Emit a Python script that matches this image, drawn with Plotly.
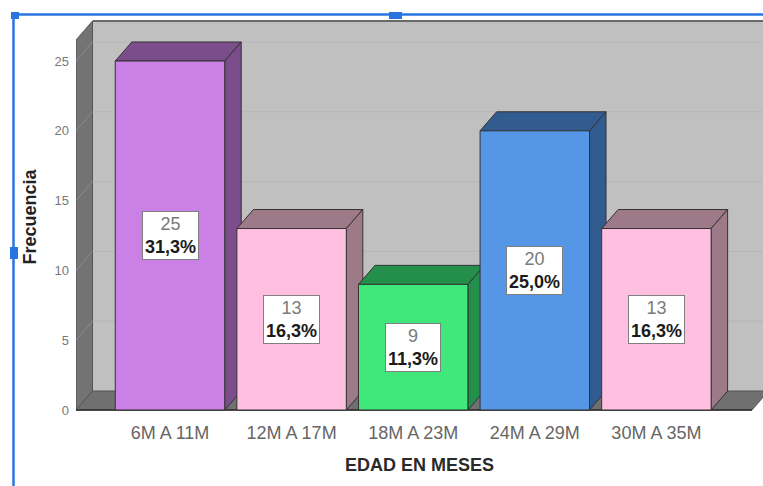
import plotly.graph_objects as go

# ---------------- data ----------------
categories = ["6M A 11M", "12M A 17M", "18M A 23M", "24M A 29M", "30M A 35M"]
counts = [25, 13, 9, 20, 13]
percents = [31.3, 16.3, 11.3, 25.0, 16.3]
y_ticks = [0, 5, 10, 15, 20, 25]

front_colors = ["#CB80E5", "#FFBFE0", "#40E87C", "#5596E6", "#FFBFE0"]
dark_colors = ["#7B4D8A", "#9E7A88", "#248F4B", "#325C90", "#9E7A88"]

# ---------------- geometry (axis units) ----------------
W, H = 763, 486
ML, MR, MT, MB = 76, 0, 14, 66
plot_w = W - ML - MR
plot_h = H - MT - MB
PX_X = 121.6          # px per category
PX_Y = 13.96          # px per count
x0 = -(170 - ML) / PX_X
x1 = x0 + plot_w / PX_X
y0 = -((H - MB) - 410) / PX_Y
y1 = y0 + plot_h / PX_Y

DX = 16.5 / PX_X      # depth offset (x)
DY = 19.0 / PX_Y      # depth offset (y)
BW = 0.90             # bar width
wall_top = (410 - 21) / PX_Y
floor_end = (752 - 170) / PX_X

FONT = "Liberation Sans, Arial"
fig = go.Figure()


def poly(xs, ys, fill, line="#333333", lw=1.0):
    fig.add_trace(go.Scatter(
        x=xs + [xs[0]], y=ys + [ys[0]], mode="lines", fill="toself",
        fillcolor=fill, line=dict(color=line, width=lw),
        hoverinfo="skip", showlegend=False))


def seg(xs, ys, color, lw=1.0):
    fig.add_trace(go.Scatter(
        x=xs, y=ys, mode="lines", line=dict(color=color, width=lw),
        hoverinfo="skip", showlegend=False))


# back wall
poly([x0 + DX, x1 + 0.2, x1 + 0.2, x0 + DX],
     [DY, DY, wall_top, wall_top], "#C0C0C0", line="#C0C0C0", lw=0.5)
seg([x0 + DX, x1 + 0.2], [wall_top, wall_top], "#6a6a6a", 2)
# left wall
poly([x0, x0 + DX, x0 + DX, x0],
     [0, DY, wall_top, wall_top - DY], "#737373", line="#555555", lw=1)
# floor
poly([x0, floor_end, floor_end + DX, x0 + DX],
     [0, 0, DY, DY], "#707070", line="#555555", lw=1)
seg([x0, floor_end], [0, 0], "#2a2a2a", 1.5)

# gridlines on walls
for v in y_ticks[1:]:
    seg([x0 + DX, x1 + 0.2], [v + DY, v + DY], "#B6B6B6", 1)
    seg([x0, x0 + DX], [v, v + DY], "#8C8C8C", 1)

# 3D bars
for i, v in enumerate(counts):
    L, R = i - BW / 2, i + BW / 2
    poly([L, L + DX, R + DX, R], [v, v + DY, v + DY, v], dark_colors[i])   # top
    poly([R, R + DX, R + DX, R], [0, DY, v + DY, v], dark_colors[i])       # side
    poly([L, R, R, L], [0, 0, v, v], front_colors[i])                      # front

# value labels
annotations = []
for i, (c, p) in enumerate(zip(counts, percents)):
    ptxt = f"{p:.1f}".replace(".", ",") + "%"
    annotations.append(dict(
        x=i, y=c / 2, xref="x", yref="y", showarrow=False,
        text=f"<span style='color:#7a7a7a'>{c}</span><br><b>{ptxt}</b>",
        font=dict(family=FONT, size=18, color="#1a1a1a"),
        bgcolor="white", bordercolor="#7f7f7f", borderwidth=1, borderpad=2,
        align="center"))


# selection frame (decorative, paper coords)
def px2paper_x(px):
    return (px - ML) / plot_w


def px2paper_y(py):
    return ((H - MB) - py) / plot_h


blue = "#2A74E0"
shapes = [
    dict(type="line", xref="paper", yref="paper",
         x0=px2paper_x(19), x1=px2paper_x(770), y0=px2paper_y(14.5), y1=px2paper_y(14.5),
         line=dict(color=blue, width=2.5)),
    dict(type="line", xref="paper", yref="paper",
         x0=px2paper_x(13.5), x1=px2paper_x(13.5), y0=px2paper_y(19), y1=px2paper_y(490),
         line=dict(color=blue, width=2.5)),
    dict(type="rect", xref="paper", yref="paper",
         x0=px2paper_x(11), x1=px2paper_x(19), y0=px2paper_y(19), y1=px2paper_y(12),
         fillcolor=blue, line=dict(width=0)),
    dict(type="rect", xref="paper", yref="paper",
         x0=px2paper_x(389), x1=px2paper_x(402), y0=px2paper_y(19), y1=px2paper_y(12),
         fillcolor=blue, line=dict(width=0)),
    dict(type="rect", xref="paper", yref="paper",
         x0=px2paper_x(10), x1=px2paper_x(18), y0=px2paper_y(259), y1=px2paper_y(247),
         fillcolor=blue, line=dict(width=0)),
]

fig.update_layout(
    width=W, height=H,
    margin=dict(l=ML, r=MR, t=MT, b=MB, pad=0),
    paper_bgcolor="white", plot_bgcolor="white",
    font=dict(family=FONT, color="#555555"),
    showlegend=False,
    annotations=annotations,
    shapes=shapes,
    xaxis=dict(
        range=[x0, x1], tickvals=list(range(len(categories))), ticktext=categories,
        showgrid=False, zeroline=False, showline=False, ticks="",
        tickfont=dict(size=18, color="#666666"), ticklabelstandoff=0,
        title=dict(text="<b>EDAD EN MESES</b>", standoff=16,
                   font=dict(size=18, color="#2a2a2a", family=FONT)),
    ),
    yaxis=dict(
        range=[y0, y1], tickvals=y_ticks, showgrid=False, zeroline=False,
        showline=False, ticks="", tickfont=dict(size=13, color="#777777"),
        ticklabelstandoff=6,
        title=dict(text="<b>Frecuencia</b>", standoff=13,
                   font=dict(size=18, color="#222222", family=FONT)),
    ),
)

fig.write_html("out.html")
